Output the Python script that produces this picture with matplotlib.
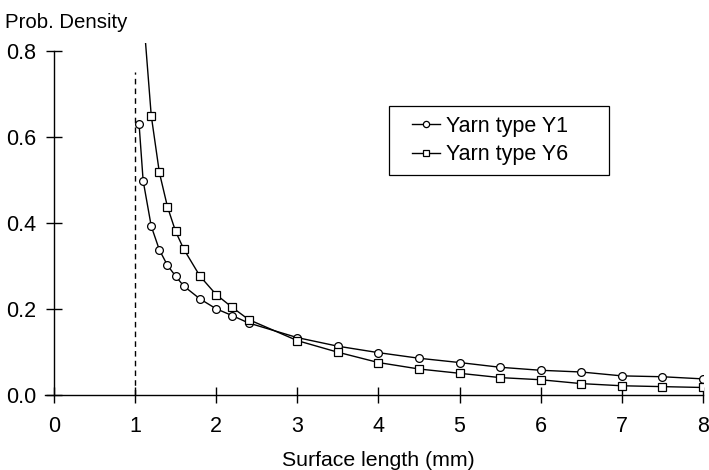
import matplotlib.pyplot as plt
from matplotlib.legend_handler import HandlerLine2D

plt.rcParams['font.family'] = ['Liberation Sans', 'DejaVu Sans']
plt.rcParams['font.size'] = 15.5

# surface length (mm) and probability density for the two yarns
x_y1 = [1.05, 1.1, 1.2, 1.3, 1.4, 1.5, 1.6, 1.8, 2.0, 2.2, 2.4,
        3.0, 3.5, 4.0, 4.5, 5.0, 5.5, 6.0, 6.5, 7.0, 7.5, 8.0]
p_y1 = [0.629, 0.498, 0.392, 0.337, 0.301, 0.276, 0.253, 0.223, 0.200, 0.184, 0.167,
        0.133, 0.113, 0.098, 0.085, 0.075, 0.064, 0.057, 0.053, 0.044, 0.042, 0.037]

# first Y6 point lies off the top of the plot (line only, no marker)
x_y6 = [1.1, 1.2, 1.3, 1.4, 1.5, 1.6, 1.8, 2.0, 2.2, 2.4,
        3.0, 3.5, 4.0, 4.5, 5.0, 5.5, 6.0, 6.5, 7.0, 7.5, 8.0]
p_y6 = [0.89, 0.649, 0.517, 0.437, 0.380, 0.339, 0.276, 0.233, 0.203, 0.175,
        0.126, 0.099, 0.075, 0.060, 0.050, 0.040, 0.035, 0.026, 0.021, 0.019, 0.017]

x_ticks = [0, 1, 2, 3, 4, 5, 6, 7, 8]
y_ticks = [0.0, 0.2, 0.4, 0.6, 0.8]
cutoff = 1.0      # minimum surface length
cutoff_top = 0.75

fig = plt.figure(figsize=(7.09, 4.70), dpi=100)
ax = fig.add_axes([0.076, 0.160, 0.9155, 0.7485])

ax.plot([cutoff, cutoff], [0, cutoff_top], color='black', lw=1.0,
        ls=(0, (4, 3)))
l1, = ax.plot(x_y1, p_y1, '-o', color='black', lw=1.0, ms=5.6, mfc='white',
              mec='black', mew=0.9, label='Yarn type Y1')
l6, = ax.plot(x_y6, p_y6, '-s', color='black', lw=1.0, ms=5.6, mfc='white',
              mec='black', mew=0.9, markevery=list(range(1, len(x_y6))),
              label='Yarn type Y6')

ax.set_xlim(0, 8)
ax.set_ylim(0, 0.818)
ax.set_xticks(x_ticks)
ax.set_yticks(y_ticks)
ax.set_yticklabels(['%.1f' % v for v in y_ticks])
ax.tick_params(direction='inout', length=11.5, width=1.0)
ax.tick_params(axis='x', pad=9.3)
ax.tick_params(axis='y', pad=7.2)
for side in ['top', 'right']:
    ax.spines[side].set_visible(False)
ax.spines['left'].set_bounds(0, 0.8)
ax.spines['bottom'].set_bounds(-0.11, 8)
for side in ['left', 'bottom']:
    ax.spines[side].set_linewidth(1.0)

ax.set_xlabel('Surface length (mm)', fontsize=15.3, labelpad=10)
fig.text(0.007, 0.953, 'Prob. Density', va='center', ha='left', fontsize=14.7)

# legend handles indented from the frame edge
leg = ax.legend(loc='upper left',
                bbox_to_anchor=(389 / 709, 1 - 173 / 470, 220 / 709, 67 / 470),
                bbox_transform=fig.transFigure, mode='expand', borderaxespad=0,
                handlelength=1.9, handletextpad=0.3, markerscale=0.8,
                handler_map={l1: HandlerLine2D(xpad=0.6),
                             l6: HandlerLine2D(xpad=0.6)},
                fancybox=False, framealpha=1, edgecolor='black',
                borderpad=0.45, labelspacing=0.35)
leg.get_frame().set_linewidth(0.9)

fig.savefig('out.png', dpi=100)
